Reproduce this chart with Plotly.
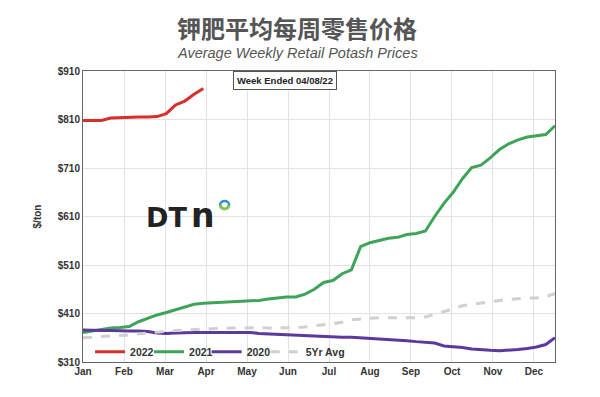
import plotly.graph_objects as go

MONTHS = ["Jan", "Feb", "Mar", "Apr", "May", "Jun", "Jul", "Aug", "Sep", "Oct", "Nov", "Dec"]
MONTH_POS = [0, 4.43, 8.86, 13.29, 17.72, 22.15, 26.58, 31.01, 35.44, 39.87, 44.3, 48.73]
Y_TICKS = [310, 410, 510, 610, 710, 810, 910]

WEEKS = list(range(52))

P2022 = [808, 808, 808, 813, 814, 814, 815, 815, 816, 822, 840, 848, 862, 874]

P2021 = [371, 374, 377, 380, 381, 383, 393, 400, 407, 412, 418, 424, 429, 431,
         432, 433, 434, 434, 435, 437, 440, 442, 444, 444, 450, 460, 474, 478,
         492, 500, 548, 556, 561, 565, 567, 573, 575, 580, 610, 637, 660, 688,
         711, 716, 731, 748, 760, 768, 774, 777, 779, 797]

P2020 = [376, 375, 375, 375, 374, 374, 374, 373, 370, 369, 370, 371, 371, 371,
         371, 372, 371, 371, 371, 369, 368, 367, 366, 365, 364, 363, 362, 362,
         361, 361, 360, 359, 358, 357, 355, 354, 352, 350, 349, 343, 342, 340,
         337, 335, 334, 333, 334, 336, 338, 341, 346, 360]

AVG5 = [360, 361, 362, 363, 364, 366, 368, 370, 372, 374, 375, 376, 377, 378,
        379, 379, 380, 380, 381, 381, 380, 380, 380, 381, 382, 385, 387, 389,
        392, 397, 399, 400, 401, 401, 401, 401, 401, 403, 408, 414, 420, 426,
        429, 432, 435, 437, 439, 441, 442, 442, 445, 451]

SERIES = [("2022", P2022, "#d7302a", "solid", "legend"),
          ("2021", P2021, "#3fa45a", "solid", "legend2"),
          ("2020", P2020, "#5b3a9c", "solid", "legend3"),
          ("5Yr Avg", AVG5, "#d0d0d0", "dash", "legend4")]

fig = go.Figure()
for name, vals, color, dash, lg in SERIES:
    fig.add_trace(go.Scatter(x=WEEKS[:len(vals)], y=vals, mode="lines", name=name,
                             legend=lg, line=dict(color=color, width=3, dash=dash)))

legend_font = dict(size=10.5, color="#333333", weight="bold")
def lg(xpos):
    return dict(orientation="h", x=xpos, y=0.035, xanchor="left", yanchor="middle",
                bgcolor="rgba(0,0,0,0)", font=legend_font, itemwidth=30)

fig.update_layout(
    width=600, height=397,
    margin=dict(l=83, r=45, t=71, b=35),
    paper_bgcolor="white", plot_bgcolor="white",
    font=dict(family="Liberation Sans, Arial, sans-serif", color="#333333"),
    xaxis=dict(range=[0, 51], tickvals=MONTH_POS, ticktext=MONTHS,
               showgrid=True, gridcolor="#e2e2e2", gridwidth=1,
               showline=True, linecolor="#666666", linewidth=1, mirror=True,
               ticks="", tickfont=dict(size=10, color="#333333", weight="bold"),
               zeroline=False),
    yaxis=dict(range=[310, 910], tickvals=Y_TICKS, ticktext=["$" + str(v) for v in Y_TICKS],
               showgrid=True, gridcolor="#e2e2e2", gridwidth=1,
               showline=True, linecolor="#666666", linewidth=1, mirror=True,
               ticks="", tickfont=dict(size=10, color="#333333", weight="bold"),
               title=dict(text="<b>$/ton</b>", font=dict(size=10, color="#333333"), standoff=14),
               zeroline=False),
    legend=lg(0.015), legend2=lg(0.14), legend3=lg(0.262), legend4=lg(0.387),
    showlegend=True,
)

fig.add_annotation(text="钾肥平均每周零售价格", xref="paper", yref="paper",
                   x=0.5, y=1, yshift=44, xanchor="center", yanchor="middle",
                   xshift=-22, showarrow=False,
                   font=dict(family="Noto Sans CJK SC", size=24, color="#555555", weight="bold"))
fig.add_annotation(text="<i>Average Weekly Retail Potash Prices</i>", xref="paper", yref="paper",
                   x=0.5, y=1, yshift=18, xanchor="center", yanchor="middle",
                   xshift=-22, showarrow=False,
                   font=dict(size=14.5, color="#555555"))
fig.add_annotation(text="<b>Week Ended 04/08/22</b>", xref="paper", yref="paper",
                   x=0.428, y=0.969, xanchor="center", yanchor="middle", showarrow=False,
                   bordercolor="#555555", borderwidth=1, borderpad=3, bgcolor="white",
                   font=dict(size=9.5, color="#222222"))
# DTN logo
fig.add_annotation(text="DT", xref="paper", yref="paper",
                   x=0.177, y=0.497, xanchor="center", yanchor="middle", showarrow=False,
                   font=dict(size=27, color="#222222", family="DejaVu Sans", weight="bold"))
fig.add_annotation(text="n", xref="paper", yref="paper",
                   x=0.254, y=0.505, xanchor="center", yanchor="middle", showarrow=False,
                   font=dict(size=33, color="#222222", family="DejaVu Sans", weight="bold"))
CX, CY, RX, RY = 0.3, 0.5395, 0.0095, 0.0135
fig.add_shape(type="circle", xref="paper", yref="paper",
              x0=CX - RX, x1=CX + RX, y0=CY - RY, y1=CY + RY,
              line=dict(color="#2f8fd6", width=2.5))
fig.add_shape(type="path", xref="paper", yref="paper",
              path=f"M {CX - RX},{CY} Q {CX},{CY - 2 * RY} {CX + RX},{CY}",
              line=dict(color="#8cc63f", width=2.5))

fig.write_html("out.html", post_script="document.body.style.margin='0';",
               config={"displayModeBar": False})
